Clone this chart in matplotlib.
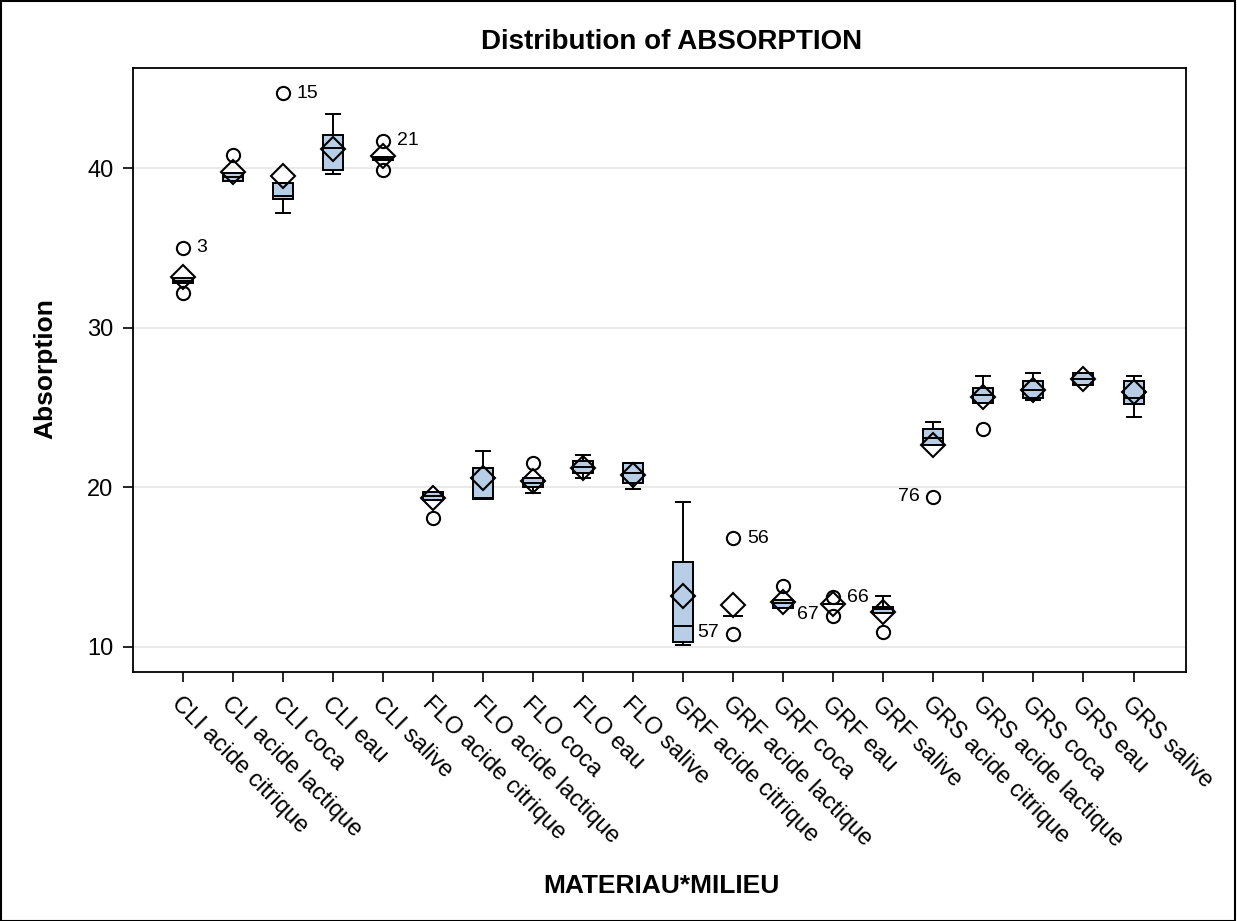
import matplotlib
matplotlib.use("Agg")
import matplotlib.pyplot as plt
from matplotlib.patches import Rectangle

plt.rcParams['font.family'] = ['Liberation Sans', 'DejaVu Sans']

categories = ["CLI acide citrique", "CLI acide lactique", "CLI coca", "CLI eau", "CLI salive",
              "FLO acide citrique", "FLO acide lactique", "FLO coca", "FLO eau", "FLO salive",
              "GRF acide citrique", "GRF acide lactique", "GRF coca", "GRF eau", "GRF salive",
              "GRS acide citrique", "GRS acide lactique", "GRS coca", "GRS eau", "GRS salive"]
whis_low = [32.8, 39.2, 37.2, 39.6, 40.5, 19.2, 19.25, 19.65, 20.6, 19.9,
            10.1, 11.95, 12.45, 12.7, 12.15, 22.65, 25.3, 25.5, 26.4, 24.4]
q1 =       [32.8, 39.2, 38.05, 39.9, 40.5, 19.2, 19.25, 20.0, 20.9, 20.3,
            10.3, 11.95, 12.45, 12.7, 12.15, 22.65, 25.3, 25.6, 26.4, 25.2]
median =   [32.95, 39.45, 38.25, 41.25, 40.6, 19.45, 19.3, 20.3, 21.3, 20.9,
            11.3, 11.95, 12.75, 12.7, 12.35, 23.1, 25.8, 26.1, 26.8, 25.6]
q3 =       [33.1, 39.7, 39.05, 42.05, 40.7, 19.7, 21.2, 20.6, 21.65, 21.5,
            15.3, 11.95, 12.95, 12.7, 12.5, 23.65, 26.2, 26.65, 27.15, 26.65]
whis_high = [33.1, 39.7, 39.05, 43.4, 40.7, 19.7, 22.3, 20.6, 22.0, 21.5,
             19.1, 11.95, 12.95, 12.7, 13.2, 24.1, 27.0, 27.15, 27.15, 27.0]
means =    [33.2, 39.75, 39.5, 41.2, 40.75, 19.3, 20.6, 20.4, 21.2, 20.8,
            13.2, 12.6, 12.8, 12.7, 12.2, 22.65, 25.65, 26.1, 26.8, 26.0]
outliers = [[35.0, 32.2], [40.8], [44.7], [], [41.7, 39.9], [18.1], [], [21.5], [], [],
            [], [16.8, 10.8], [13.8], [13.1, 11.95], [10.95], [19.4], [23.65], [], [], []]
# (category index, label, y value, side)
labels = [(0, "3", 35.0, 'r'), (2, "15", 44.7, 'r'), (4, "21", 41.7, 'r'),
          (10, "57", 10.9, 'r'), (11, "56", 16.8, 'r'), (12, "67", 12.0, 'r'),
          (13, "66", 13.1, 'r'), (15, "76", 19.4, 'l')]

fig = plt.figure(figsize=(12.37, 9.21), dpi=100)
ax = fig.add_axes([0.1075, 0.2704, 0.8513, 0.6556])

stats = []
for i in range(len(categories)):
    stats.append(dict(whislo=whis_low[i], q1=q1[i], med=median[i], q3=q3[i],
                      whishi=whis_high[i], mean=means[i], fliers=outliers[i], label=categories[i]))

pos = list(range(len(categories)))
ax.bxp(stats, positions=pos, widths=0.4, patch_artist=True, showmeans=True, showfliers=True,
       boxprops=dict(facecolor='#b8cde6', edgecolor='black', linewidth=1.4),
       medianprops=dict(color='black', linewidth=1.4),
       whiskerprops=dict(color='black', linewidth=1.4),
       capprops=dict(color='black', linewidth=1.4), capwidths=0.28,
       meanprops=dict(marker='D', markerfacecolor='none', markeredgecolor='black',
                      markersize=12, markeredgewidth=1.5),
       flierprops=dict(marker='o', markerfacecolor='none', markeredgecolor='black',
                       markersize=9.5, markeredgewidth=1.5),
       zorder=3)

for idx, txt, yv, side in labels:
    if side == 'r':
        ax.text(idx + 0.27, yv, txt, ha='left', va='center', fontsize=14)
    else:
        ax.text(idx - 0.27, yv, txt, ha='right', va='center', fontsize=14)

ax.set_xlim(-1, 20.05)
ax.set_ylim(8.43, 46.26)
ax.set_yticks([10, 20, 30, 40])
ax.yaxis.grid(True, color='#e6e6e6', linewidth=1.2, zorder=0)
ax.set_axisbelow(True)
ax.set_xticks(pos)
ax.set_xticklabels(categories, rotation=-45, ha='left', va='top', rotation_mode='anchor', fontsize=17)
ax.tick_params(axis='both', labelsize=17, length=7, width=1.2)
ax.tick_params(axis='y', pad=7)
ax.tick_params(axis='x', pad=8)
for s in ax.spines.values():
    s.set_linewidth(1.3)

fig.text(0.5433, 0.954, "Distribution of ABSORPTION", ha='center', va='center', fontsize=20, fontweight='bold')
fig.text(0.0364, 0.600, "Absorption", ha='center', va='center', rotation=90, fontsize=19, fontweight='bold')
fig.text(0.5344, 0.038, "MATERIAU*MILIEU", ha='center', va='center', fontsize=19, fontweight='bold')

border = Rectangle((0.0005, 0.0005), 0.998, 0.998, transform=fig.transFigure, fill=False,
                   edgecolor='black', linewidth=1.5)
fig.patches.append(border)

fig.savefig("out.png", dpi=100)
